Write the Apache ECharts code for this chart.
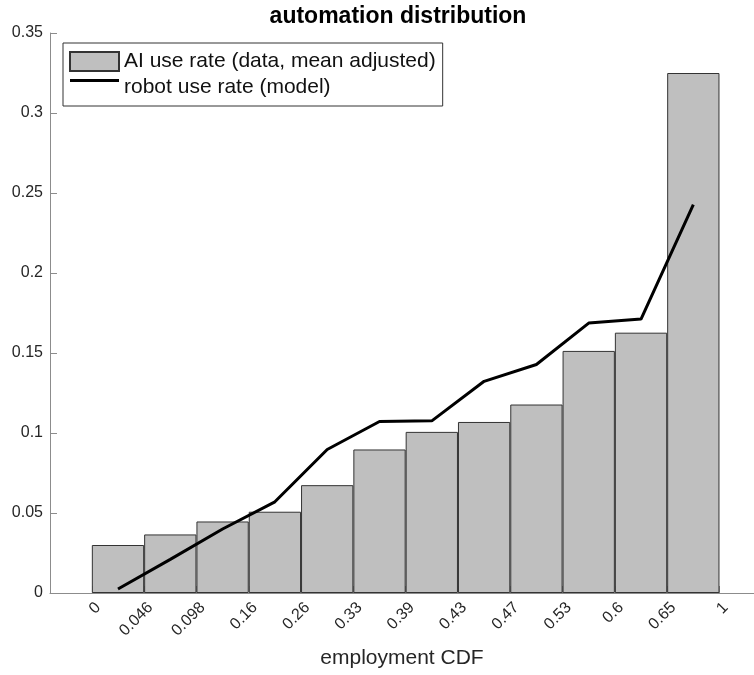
<!DOCTYPE html>
<html>
<head>
<meta charset="utf-8">
<script src="https://cdn.jsdelivr.net/npm/echarts@6/dist/echarts.min.js"></script>
<style>
html, body { margin: 0; background: #fff; }
#chart { width: 754px; height: 675px; }
</style>
</head>
<body>
<div id="chart"></div>
<script>
// bin edges shown under the bars
var edgeLabels = ['0', '0.046', '0.098', '0.16', '0.26', '0.33', '0.39', '0.43', '0.47', '0.53', '0.6', '0.65', '1']
// AI use rate per bin (bars)
var aiRate = [0.030, 0.0366, 0.0447, 0.0508, 0.0674, 0.0897, 0.1007, 0.1069, 0.1178, 0.1513, 0.1627, 0.325]
// robot use rate per bin (line)
var robotRate = [0.0025, 0.021, 0.040, 0.057, 0.0897, 0.1072, 0.1076, 0.1323, 0.1428, 0.1687, 0.1712, 0.2428]

var font = '"Liberation Sans", Arial, Helvetica, sans-serif'
var gridLeft = 50, gridRight = 0
var xMin = -0.8, xMax = 12.66
var unitPx = (754 - gridLeft - gridRight) / (xMax - xMin)

var edgeIdx = edgeLabels.map(function (l, i) { return i })
var barData = aiRate.map(function (v, i) { return [i + 0.5, v] })
var lineData = robotRate.map(function (v, i) { return [i + 0.5, v] })

// legend line icon: thin stroke near top of the 49x19 icon box (like matlab)
var lineIcon = 'path://M0,0 M0,1 L49,1 L49,4 L0,4 Z M49,19'

var chart = echarts.init(document.getElementById('chart'), null, {renderer: 'canvas'})

chart.setOption({
    animation: false,
    textStyle: { fontFamily: font },
    title: {
        text: 'automation distribution',
        left: 393,
        textAlign: 'center',
        top: 0,
        textStyle: { fontFamily: font, fontSize: 23, fontWeight: 'bold', color: '#000' }
    },
    legend: {
        orient: 'vertical',
        left: 63,
        top: 43,
        padding: [8, 7, 8, 6],
        itemGap: 5,
        itemWidth: 49,
        itemHeight: 19,
        borderColor: '#333',
        borderWidth: 1,
        backgroundColor: '#fff',
        textStyle: { fontFamily: font, fontSize: 21, color: '#111' },
        data: [
            { name: 'AI use rate (data, mean adjusted)', icon: 'rect' },
            { name: 'robot use rate (model)', icon: lineIcon }
        ]
    },
    grid: { left: gridLeft, right: gridRight, top: 33, bottom: 82 },
    xAxis: {
        type: 'value',
        min: xMin,
        max: xMax,
        name: 'employment CDF',
        nameLocation: 'middle',
        nameGap: 55,
        nameTextStyle: { fontFamily: font, fontSize: 21, color: '#262626' },
        axisLine: { show: true, onZero: false, lineStyle: { color: '#8c8c8c', width: 1 } },
        axisTick: { show: true, inside: true, length: 7, customValues: edgeIdx, lineStyle: { color: '#8c8c8c' } },
        splitLine: { show: false },
        axisLabel: {
            customValues: edgeIdx.map(function (i) { return i + 0.12 }),
            rotate: 45,
            margin: 12,
            fontFamily: font,
            fontSize: 16,
            color: '#262626',
            formatter: function (v) { return edgeLabels[Math.round(v - 0.12)] }
        }
    },
    yAxis: {
        type: 'value',
        min: 0,
        max: 0.35,
        interval: 0.05,
        axisLine: { show: true, onZero: false, lineStyle: { color: '#8c8c8c', width: 1 } },
        axisTick: { show: true, inside: true, length: 7, lineStyle: { color: '#8c8c8c' } },
        splitLine: { show: false },
        axisLabel: {
            margin: 7,
            fontFamily: font,
            fontSize: 16,
            color: '#262626',
            formatter: function (v) { return String(+v.toFixed(2)) }
        }
    },
    series: [
        {
            name: 'AI use rate (data, mean adjusted)',
            type: 'bar',
            data: barData,
            barWidth: unitPx,
            itemStyle: { color: '#bfbfbf', borderColor: '#333', borderWidth: 1 }
        },
        {
            name: 'robot use rate (model)',
            type: 'line',
            data: lineData,
            symbol: 'none',
            lineStyle: { color: '#000', width: 3 },
            itemStyle: { color: '#000' }
        }
    ]
})
</script>
</body>
</html>
